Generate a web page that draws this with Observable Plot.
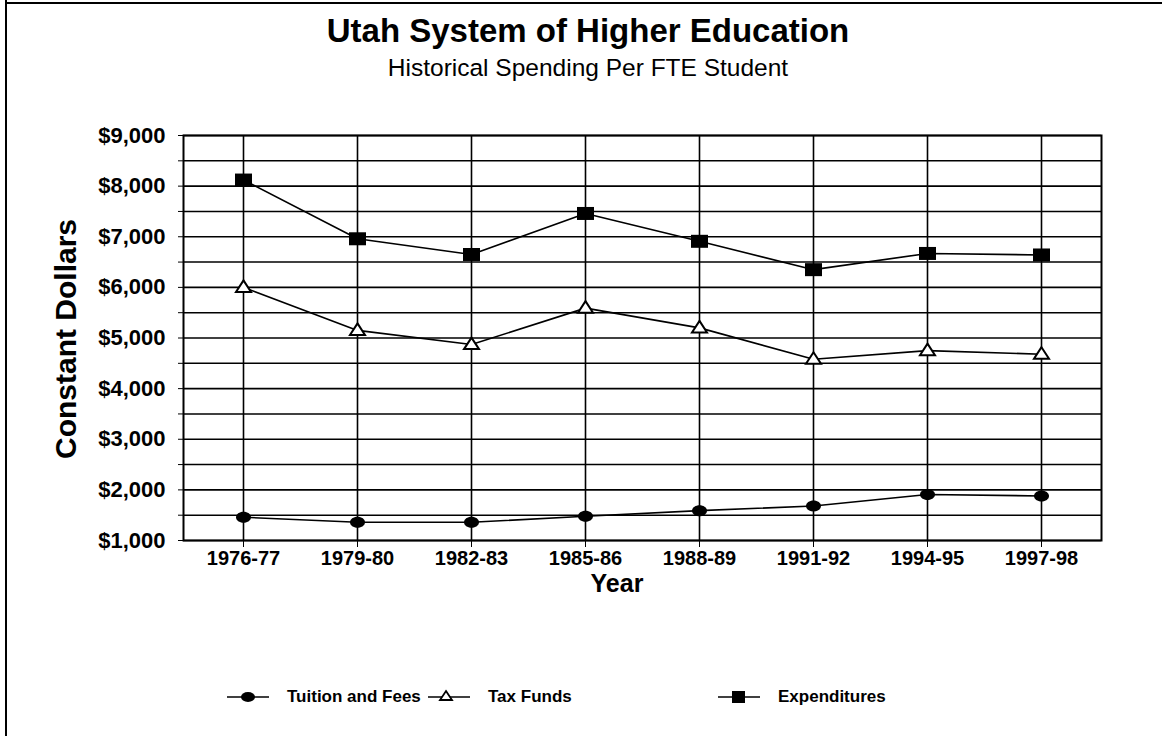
<!DOCTYPE html>
<html>
<head>
<meta charset="utf-8">
<script src="https://cdn.jsdelivr.net/npm/d3@7"></script>
<script src="https://cdn.jsdelivr.net/npm/@observablehq/plot@0.6"></script>
<style>
  html, body { margin: 0; padding: 0; background: #fff; }
  body { font-family: "Liberation Sans", Arial, sans-serif; color: #000; }
  #wrap { position: relative; width: 1162px; height: 736px; overflow: hidden; }
  #chart { position: absolute; left: 0; top: 0; }
  .abs { position: absolute; white-space: nowrap; line-height: 1; }
  #title { left: 588px; top: 14px; transform: translateX(-50%); font-size: 33px; font-weight: bold; }
  #subtitle { left: 588px; top: 56px; transform: translateX(-50%); font-size: 24.5px; }
  #ylabel { left: 66px; top: 339px; transform: translate(-50%, -50%) rotate(-90deg); font-size: 30px; font-weight: bold; }
  #xlabel { left: 617px; top: 571px; transform: translateX(-50%); font-size: 25px; font-weight: bold; }
  .legend-item { position: absolute; top: 686px; display: flex; align-items: center; font-size: 17px; font-weight: bold; }
  .legend-item svg { margin-right: 18px; }
  #borderL { left: 5px; top: 0; width: 1.5px; height: 736px; background: #000; }
  #borderT { left: 5px; top: 2px; width: 1157px; height: 1.5px; background: #000; }
</style>
</head>
<body>
<div id="wrap">
  <div class="abs" id="borderL"></div>
  <div class="abs" id="borderT"></div>
  <div id="chart"></div>
  <div class="abs" id="title">Utah System of Higher Education</div>
  <div class="abs" id="subtitle">Historical Spending Per FTE Student</div>
  <div class="abs" id="ylabel">Constant Dollars</div>
  <div class="abs" id="xlabel">Year</div>
  <div id="legend"></div>
</div>
<script>
// ---- data ----
const years = ["1976-77", "1979-80", "1982-83", "1985-86", "1988-89", "1991-92", "1994-95", "1997-98"];
const tuitionFees = [1460, 1360, 1360, 1480, 1590, 1680, 1910, 1880];
const taxFunds = [6000, 5150, 4870, 5590, 5200, 4580, 4750, 4680];
const expenditures = [8120, 6960, 6650, 7460, 6910, 6350, 6670, 6640];
const seriesNames = ["Tuition and Fees", "Tax Funds", "Expenditures"];
const yTickValues = [1000, 2000, 3000, 4000, 5000, 6000, 7000, 8000, 9000];
const yGridValues = [1000, 1500, 2000, 2500, 3000, 3500, 4000, 4500, 5000, 5500, 6000, 6500, 7000, 7500, 8000, 8500, 9000];

// ---- build table ----
const seriesValues = [tuitionFees, taxFunds, expenditures];
const rows = [];
seriesNames.forEach((s, i) => years.forEach((y, j) => rows.push({series: s, year: y, value: seriesValues[i][j]})));
const bySeries = s => rows.filter(d => d.series === s);

// ---- custom symbols ----
const ellipseSym = {draw(ctx) {
  const rx = 7.5, ry = 5.5, k = 0.5523;
  ctx.moveTo(rx, 0);
  ctx.bezierCurveTo(rx, ry * k, rx * k, ry, 0, ry);
  ctx.bezierCurveTo(-rx * k, ry, -rx, ry * k, -rx, 0);
  ctx.bezierCurveTo(-rx, -ry * k, -rx * k, -ry, 0, -ry);
  ctx.bezierCurveTo(rx * k, -ry, rx, -ry * k, rx, 0);
  ctx.closePath();
}};
const rectSym = {draw(ctx) {
  const w = 8.5, h = 6.5;
  ctx.moveTo(-w, -h); ctx.lineTo(w, -h); ctx.lineTo(w, h); ctx.lineTo(-w, h); ctx.closePath();
}};
const triSym = {draw(ctx) {
  ctx.moveTo(0, -7); ctx.lineTo(7.5, 4.5); ctx.lineTo(-7.5, 4.5); ctx.closePath();
}};

const fmt = d3.format("$,.0f");
const font = "Liberation Sans, Arial, sans-serif";

const chart = Plot.plot({
  width: 1162,
  height: 736,
  marginLeft: 183,
  marginRight: 61,
  marginTop: 135,
  marginBottom: 196,
  style: {fontFamily: font, background: "transparent", color: "#000"},
  x: {type: "point", domain: years, padding: 0.5},
  y: {domain: [1000, 9000]},
  marks: [
    Plot.gridY(yGridValues, {stroke: "#000", strokeOpacity: 1, strokeWidth: 1.6}),
    Plot.gridX({stroke: "#000", strokeOpacity: 1, strokeWidth: 1.6}),
    Plot.frame({stroke: "#000", strokeWidth: 2}),
    Plot.axisY(yGridValues, {tickSize: 5, tickPadding: 13, tickFormat: d => yTickValues.includes(d) ? fmt(d) : "",
      fontSize: 22, fontWeight: "bold", label: null, stroke: "#000"}),
    Plot.axisX({tickSize: 7, tickPadding: 3, fontSize: 20, fontWeight: "bold", label: null}),
    Plot.line(rows, {x: "year", y: "value", z: "series", stroke: "#000", strokeWidth: 1.6}),
    Plot.dot(bySeries("Tuition and Fees"), {x: "year", y: "value", symbol: ellipseSym, fill: "#000", stroke: "none"}),
    Plot.dot(bySeries("Tax Funds"), {x: "year", y: "value", symbol: triSym, fill: "#fff", stroke: "#000", strokeWidth: 2}),
    Plot.dot(bySeries("Expenditures"), {x: "year", y: "value", symbol: rectSym, fill: "#000", stroke: "none"})
  ]
});
document.getElementById("chart").appendChild(chart);

// ---- legend ----
const legend = document.getElementById("legend");
const legendLeft = [227, 428, 718];
const legendShape = [
  '<ellipse cx="21" cy="11" rx="7" ry="5" fill="#000"/>',
  '<path d="M18,5 L24,14 L12,14 Z" fill="#fff" stroke="#000" stroke-width="1.8"/>',
  '<rect x="14" y="5" width="13" height="12" fill="#000"/>'
];
seriesNames.forEach((name, i) => {
  const item = document.createElement("div");
  item.className = "legend-item";
  item.style.left = legendLeft[i] + "px";
  item.innerHTML = `<svg width="42" height="22"><line x1="0" x2="42" y1="11" y2="11" stroke="#000" stroke-width="1.6"/>${legendShape[i]}</svg><span>${name}</span>`;
  legend.appendChild(item);
});
</script>
</body>
</html>
